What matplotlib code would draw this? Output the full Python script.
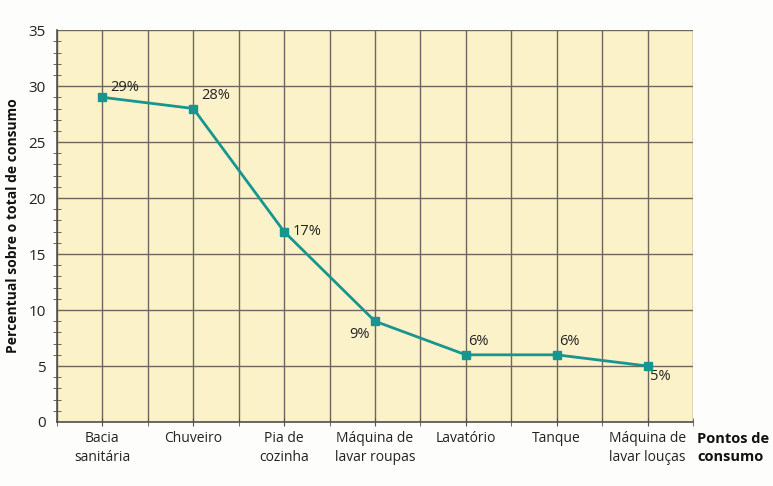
import matplotlib
matplotlib.use("Agg")
import matplotlib.pyplot as plt
from matplotlib.ticker import MultipleLocator

categories = ["Bacia\nsanitária", "Chuveiro", "Pia de\ncozinha", "Máquina de\nlavar roupas",
              "Lavatório", "Tanque", "Máquina de\nlavar louças"]
values = [29, 28, 17, 9, 6, 6, 5]
labels = ["29%", "28%", "17%", "9%", "6%", "6%", "5%"]
yticks = [0, 5, 10, 15, 20, 25, 30, 35]

plt.rcParams['font.family'] = ['Open Sans', 'DejaVu Sans']
fig = plt.figure(figsize=(7.73, 4.86), dpi=100)
fig.patch.set_facecolor('#fdfdfb')
ax = fig.add_axes([0.0737, 0.1317, 0.8228, 0.8063])
ax.set_facecolor('#fbf2c9')

x = list(range(len(categories)))
ax.plot(x, values, color='#17958f', lw=2, marker='s', ms=6, zorder=5)

offsets = [(6, 2, 'left', 'bottom'), (6, 4, 'left', 'bottom'), (6, 0, 'left', 'center'),
           (-4, -4, 'right', 'top'), (2, 4, 'left', 'bottom'), (2, 4, 'left', 'bottom'),
           (2, -2, 'left', 'top')]
for xi, v, lab, (dx, dy, ha, va) in zip(x, values, labels, offsets):
    ax.annotate(lab, (xi, v), xytext=(dx, dy), textcoords='offset points',
                ha=ha, va=va, fontsize=10.5, color='#222222')

ax.set_xlim(-0.5, 6.5)
ax.set_ylim(0, 35)
ax.set_yticks(yticks)
ax.yaxis.set_minor_locator(MultipleLocator(1))
ax.set_xticks(x)
ax.set_xticklabels(categories, fontsize=10, color='#222222', linespacing=1.35)
ax.xaxis.set_minor_locator(MultipleLocator(0.5))
ax.tick_params(axis='y', labelsize=11, labelcolor='#222222', pad=8)
ax.tick_params(which='both', direction='inout', color='#55504a')
ax.tick_params(axis='y', which='major', length=0)
ax.tick_params(axis='y', which='minor', length=6)
ax.tick_params(axis='x', which='major', length=6)
ax.tick_params(axis='x', which='minor', length=6)

ax.grid(True, which='major', axis='y', color='#6e675b', lw=1)
ax.grid(True, which='both', axis='x', color='#6e675b', lw=1)
for side in ['top', 'right']:
    ax.spines[side].set_visible(False)
for side in ['left', 'bottom']:
    ax.spines[side].set_color('#55504a')
    ax.spines[side].set_linewidth(1.2)

ax.set_ylabel('Percentual sobre o total de consumo', fontsize=10, fontweight='bold', color='#111111')
ax.yaxis.set_label_coords(-0.058, 0.5)
fig.text(0.902, 0.078, 'Pontos de\nconsumo', fontsize=10.5, fontweight='bold', color='#111111',
         ha='left', va='center', linespacing=1.3)

fig.savefig('out.png', dpi=100, facecolor=fig.get_facecolor())
